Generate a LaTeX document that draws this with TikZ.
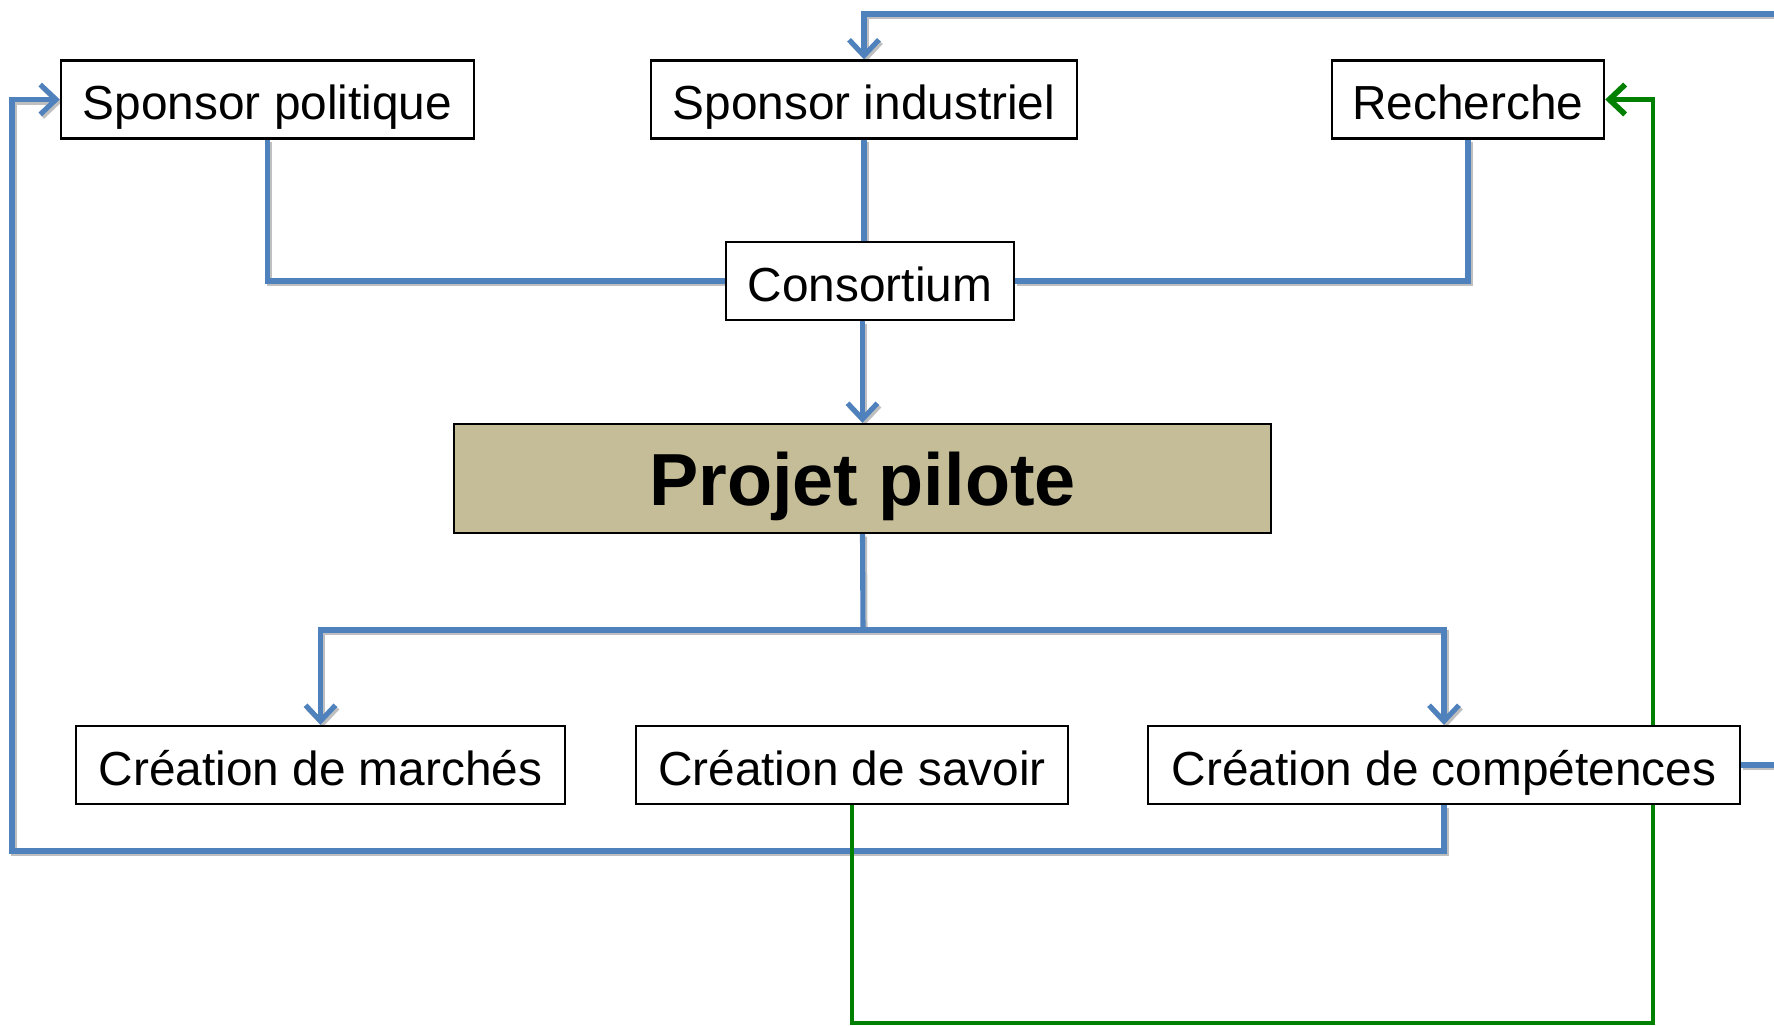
\documentclass[tikz,border=0pt]{standalone}
\usepackage{fontspec}
\setmainfont{Liberation Sans}
\usetikzlibrary{arrows.meta,backgrounds}

\definecolor{linkblue}{RGB}{79,129,189}
\definecolor{loopgreen}{RGB}{0,128,0}
\definecolor{pilottan}{RGB}{196,189,151}

\tikzset{
	box/.style={draw, line width=.7pt, fill=white, minimum height=.78cm, inner sep=0pt,
		text height=.5cm, text depth=.09cm, font=\fontsize{13.6}{16}\selectfont},
	link/.style={draw=linkblue, line width=1.45pt,
		preaction={draw=gray!50, line width=1.45pt, transform canvas={shift={(.02,-.025)}}}},
	loop/.style={draw=loopgreen, line width=1.2pt},
	tip/.style={-{Straight Barb[length=4.5pt,width=8.5pt]}}
}

\begin{document}
\begin{tikzpicture}
	\useasboundingbox (0,0) rectangle (17.74,-10.26);

	\foreach \name/\pos/\boxw/\txt in {
		pol/{2.675,-0.995}/4.13/Sponsor politique,
		ind/{8.64,-0.995}/4.26/Sponsor industriel,
		rech/{14.68,-0.995}/2.72/Recherche,
		cons/{8.70,-2.81}/2.88/Consortium,
		march/{3.205,-7.65}/4.89/Création de marchés,
		savoir/{8.52,-7.65}/4.32/Création de savoir,
		comp/{14.44,-7.65}/5.92/Création de compétences
	}
		\node[box, minimum width=\boxw cm] (\name) at (\pos) {\txt};

	\node[box, fill=pilottan, minimum width=8.17cm, minimum height=1.09cm,
		text height=.64cm, text depth=.1cm,
		font=\fontsize{21}{24}\selectfont\bfseries] (projet) at (8.625,-4.785) {Projet pilote};

	\coordinate (topright) at (18.2,-0.14);
	\coordinate (split) at (8.63,-6.30);
	\coordinate (leftbot) at (0.12,-8.51);
	\coordinate (greenbot) at (16.53,-10.23);

	\begin{scope}[on background layer]
		\draw[link] (pol.south) |- (cons.west);
		\draw[link] (rech.south) |- (cons.east);
		\draw[link] (ind.south) -- (ind.south |- cons.north);
		\draw[link, tip] (projet.north |- cons.south) -- (projet.north);

		\draw[link] (projet.south) -- (split);
		\draw[link, tip] (split) -| (march.north);
		\draw[link, tip] (split) -| (comp.north);

		\draw[link, tip] (comp.south) |- (leftbot) |- (pol.west);
		\draw[link, tip] (comp.east) -| (topright) -| (ind.north);

		\draw[loop, -{Straight Barb[length=4.5pt,width=8.5pt,line width=1.6pt]}]
			(savoir.south) |- (greenbot) |- (rech.east);
	\end{scope}
\end{tikzpicture}
\end{document}
